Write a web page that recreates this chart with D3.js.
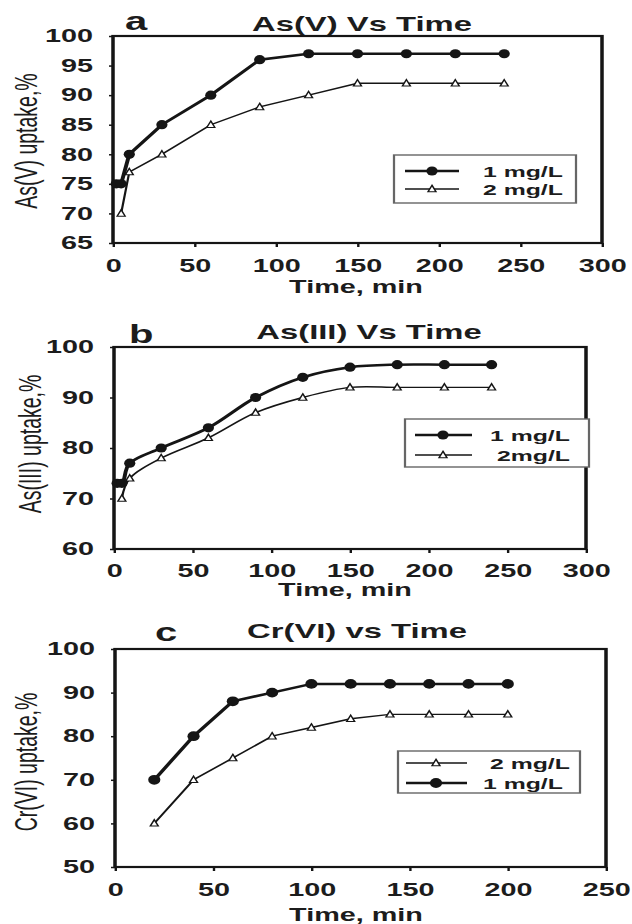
<!DOCTYPE html>
<html>
<head>
<meta charset="utf-8">
<script src="https://cdn.jsdelivr.net/npm/d3@7"></script>
<style>
  html, body { margin: 0; padding: 0; background: #fff; }
  svg { display: block; }
</style>
</head>
<body>
<div id="chart"></div>
<script>
"use strict";

//
//   DATA
//

// a: As(V)
var timeA1 = [2, 5, 10, 30, 60, 90, 120, 150, 180, 210, 240];
var uptakeA1 = [75, 75, 80, 85, 90, 96, 97, 97, 97, 97, 97];
var timeA2 = [5, 10, 30, 60, 90, 120, 150, 180, 210, 240];
var uptakeA2 = [70, 77, 80, 85, 88, 90, 92, 92, 92, 92];

// b: As(III)
var timeB1 = [2, 5, 10, 30, 60, 90, 120, 150, 180, 210, 240];
var uptakeB1 = [73, 73, 77, 80, 84, 90, 94, 96, 96.5, 96.5, 96.5];
var timeB2 = [5, 10, 30, 60, 90, 120, 150, 180, 210, 240];
var uptakeB2 = [70, 74, 78, 82, 87, 90, 92, 92, 92, 92];

// c: Cr(VI)
var timeC = [20, 40, 60, 80, 100, 120, 140, 160, 180, 200];
var uptakeC1 = [70, 80, 88, 90, 92, 92, 92, 92, 92, 92];
var uptakeC2 = [60, 70, 75, 80, 82, 84, 85, 85, 85, 85];

var ticksX300 = [0, 50, 100, 150, 200, 250, 300];
var ticksX250 = [0, 50, 100, 150, 200, 250];
var ticksYA = [65, 70, 75, 80, 85, 90, 95, 100];
var ticksYB = [60, 70, 80, 90, 100];
var ticksYC = [50, 60, 70, 80, 90, 100];

var titles = ["As(V) Vs Time", "As(III) Vs Time", "Cr(VI) vs Time"];
var letters = ["a", "b", "c"];
var yTitles = ["As(V) uptake,%", "As(III) uptake,%", "Cr(VI) uptake,%"];
var xTitle = "Time, min";
var legendA = ["1 mg/L", "2 mg/L"];
var legendB = ["1 mg/L", "2mg/L"];
var legendC = ["2 mg/L", "1 mg/L"];


//
//   SET UP
//

var W = 632, H = 924;
var SX = 1.6; // the scanned figure is stretched sideways
var FONT = "'Liberation Sans', Arial, sans-serif";
var INK = "#151515";
var TEXT = "#1c1c1c";

function px(x) { return x / SX; }

var svg = d3.select("#chart").append("svg")
    .attr("width", W)
    .attr("height", H)
    .attr("viewBox", "0 0 " + px(W) + " " + H)
    .attr("preserveAspectRatio", "none")
    .style("font-family", FONT);

var panels = [
    {
        letter: letters[0], title: titles[0], yTitle: yTitles[0],
        xDomain: [0, 300], xTicks: ticksX300, yDomain: [65, 100], yTicks: ticksYA,
        left: 113, right: 602, top: 36, bottom: 243, xPad: 12,
        letterPos: [125, 30], titlePos: [362, 31], xTitlePos: [356, 293], yTitlePos: [28, 141],
        curve: d3.curveLinear, dot: [3.5, 4.6],
        series: [
            { time: timeA1, uptake: uptakeA1, marker: "circle", label: legendA[0] },
            { time: timeA2, uptake: uptakeA2, marker: "triangle", label: legendA[1] }
        ],
        legend: { x0: 394, x1: 576, y0: 155, y1: 203, rows: [171, 189], line: [405, 459], mark: 432, text: [483, 483], order: [0, 1] }
    },
    {
        letter: letters[1], title: titles[1], yTitle: yTitles[1],
        xDomain: [0, 300], xTicks: ticksX300, yDomain: [60, 100], yTicks: ticksYB,
        left: 114, right: 586, top: 347, bottom: 549, xPad: 11,
        letterPos: [129, 343], titlePos: [369, 339], xTitlePos: [345, 596], yTitlePos: [32, 444],
        curve: d3.curveCatmullRom, dot: [3.5, 4.6],
        series: [
            { time: timeB1, uptake: uptakeB1, marker: "circle", label: legendB[0] },
            { time: timeB2, uptake: uptakeB2, marker: "triangle", label: legendB[1] }
        ],
        legend: { x0: 405, x1: 589, y0: 419, y1: 467, rows: [435, 455], line: [415, 472], mark: 443, text: [490, 497], order: [0, 1] }
    },
    {
        letter: letters[2], title: titles[2], yTitle: yTitles[2],
        xDomain: [0, 250], xTicks: ticksX250, yDomain: [50, 100], yTicks: ticksYC,
        left: 115, right: 606, top: 649, bottom: 867, xPad: 12,
        letterPos: [155, 641], titlePos: [357, 638], xTitlePos: [356, 921], yTitlePos: [28, 762],
        curve: d3.curveLinear, dot: [3.8, 4.9],
        series: [
            { time: timeC, uptake: uptakeC1, marker: "circle", label: legendC[1] },
            { time: timeC, uptake: uptakeC2, marker: "triangle", label: legendC[0] }
        ],
        legend: { x0: 398, x1: 580, y0: 751, y1: 793, rows: [763, 783], line: [406, 467], mark: 436, text: [490, 483], order: [1, 0] }
    }
];

panels.forEach(drawPanel);


//
//   DRAWING
//

function drawPanel(p) {
    var x = d3.scaleLinear().domain(p.xDomain).range([px(p.left), px(p.right)]);
    var y = d3.scaleLinear().domain(p.yDomain).range([p.bottom, p.top]);
    var g = svg.append("g");

    // Axes
    g.append("g")
        .attr("transform", "translate(0," + p.bottom + ")")
        .call(d3.axisBottom(x).tickValues(p.xTicks).tickSize(4).tickPadding(p.xPad))
        .call(styleAxis);
    g.append("g")
        .attr("transform", "translate(" + px(p.left) + ",0)")
        .call(d3.axisLeft(y).tickValues(p.yTicks).tickSize(px(4)).tickPadding(px(16)))
        .call(styleAxis);

    // Frame
    g.append("rect")
        .attr("x", px(p.left))
        .attr("y", p.top)
        .attr("width", px(p.right - p.left))
        .attr("height", p.bottom - p.top)
        .attr("fill", "none")
        .attr("stroke", INK)
        .attr("stroke-width", 2.2);

    // Series
    var line = d3.line()
        .x(function (d) { return x(d[0]); })
        .y(function (d) { return y(d[1]); })
        .curve(p.curve);

    p.series.forEach(function (s) {
        var pts = d3.zip(s.time, s.uptake);
        g.append("path")
            .datum(pts)
            .attr("d", line)
            .attr("fill", "none")
            .attr("stroke", INK)
            .attr("stroke-width", s.marker == "circle" ? 2.5 : 1.4);
        pts.forEach(function (d) {
            drawMarker(g, s.marker, x(d[0]), y(d[1]), p.dot);
        });
    });

    // Legend
    var l = p.legend;
    g.append("rect")
        .attr("x", px(l.x0))
        .attr("y", l.y0)
        .attr("width", px(l.x1 - l.x0))
        .attr("height", l.y1 - l.y0)
        .attr("fill", "#fff")
        .attr("stroke", "#666")
        .attr("stroke-width", 1.4);
    l.order.forEach(function (si, i) {
        var s = p.series[si];
        var ry = l.rows[i];
        g.append("line")
            .attr("x1", px(l.line[0])).attr("x2", px(l.line[1]))
            .attr("y1", ry).attr("y2", ry)
            .attr("stroke", INK)
            .attr("stroke-width", s.marker == "circle" ? 2.5 : 1.4);
        drawMarker(g, s.marker, px(l.mark), ry, p.dot);
        g.append("text")
            .text(s.label)
            .attr("x", px(l.text[i]))
            .attr("y", ry)
            .attr("dy", "0.36em")
            .attr("font-size", 15.5)
            .attr("font-weight", "bold")
            .attr("fill", TEXT);
    });

    // Texts
    g.append("text")
        .text(p.letter)
        .attr("x", px(p.letterPos[0]))
        .attr("y", p.letterPos[1])
        .attr("font-size", 25)
        .attr("font-weight", "bold")
        .attr("fill", TEXT);
    g.append("text")
        .text(p.title)
        .attr("x", px(p.titlePos[0]))
        .attr("y", p.titlePos[1])
        .attr("text-anchor", "middle")
        .attr("font-size", 20.5)
        .attr("font-weight", "bold")
        .attr("fill", TEXT);
    g.append("text")
        .text(xTitle)
        .attr("x", px(p.xTitlePos[0]))
        .attr("y", p.xTitlePos[1])
        .attr("text-anchor", "middle")
        .attr("font-size", 18)
        .attr("font-weight", "bold")
        .attr("fill", TEXT);
    g.append("text")
        .text(p.yTitle)
        .attr("transform", "translate(" + px(p.yTitlePos[0]) + "," + p.yTitlePos[1] + ") rotate(-90)")
        .attr("text-anchor", "middle")
        .attr("dy", "0.3em")
        .attr("font-size", 19.5)
        .attr("fill", TEXT);
}

function styleAxis(sel) {
    sel.attr("font-family", FONT)
        .attr("font-size", 18)
        .attr("font-weight", "bold");
    sel.select(".domain").remove();
    sel.selectAll(".tick line").attr("stroke", INK).attr("stroke-width", 1.5);
    sel.selectAll(".tick text").attr("fill", TEXT);
}

// Filled dot or open triangle, drawn in the stretched units
function drawMarker(g, type, cx, cy, dot) {
    if (type == "circle") {
        g.append("ellipse")
            .attr("cx", cx).attr("cy", cy)
            .attr("rx", dot[0]).attr("ry", dot[1])
            .attr("fill", INK);
    } else {
        g.append("path")
            .attr("d", "M" + cx + "," + (cy - 3.7) + "L" + (cx + 2.5) + "," + (cy + 2.7) + "L" + (cx - 2.5) + "," + (cy + 2.7) + "Z")
            .attr("fill", "#fff")
            .attr("stroke", INK)
            .attr("stroke-width", 1);
    }
}
</script>
</body>
</html>
